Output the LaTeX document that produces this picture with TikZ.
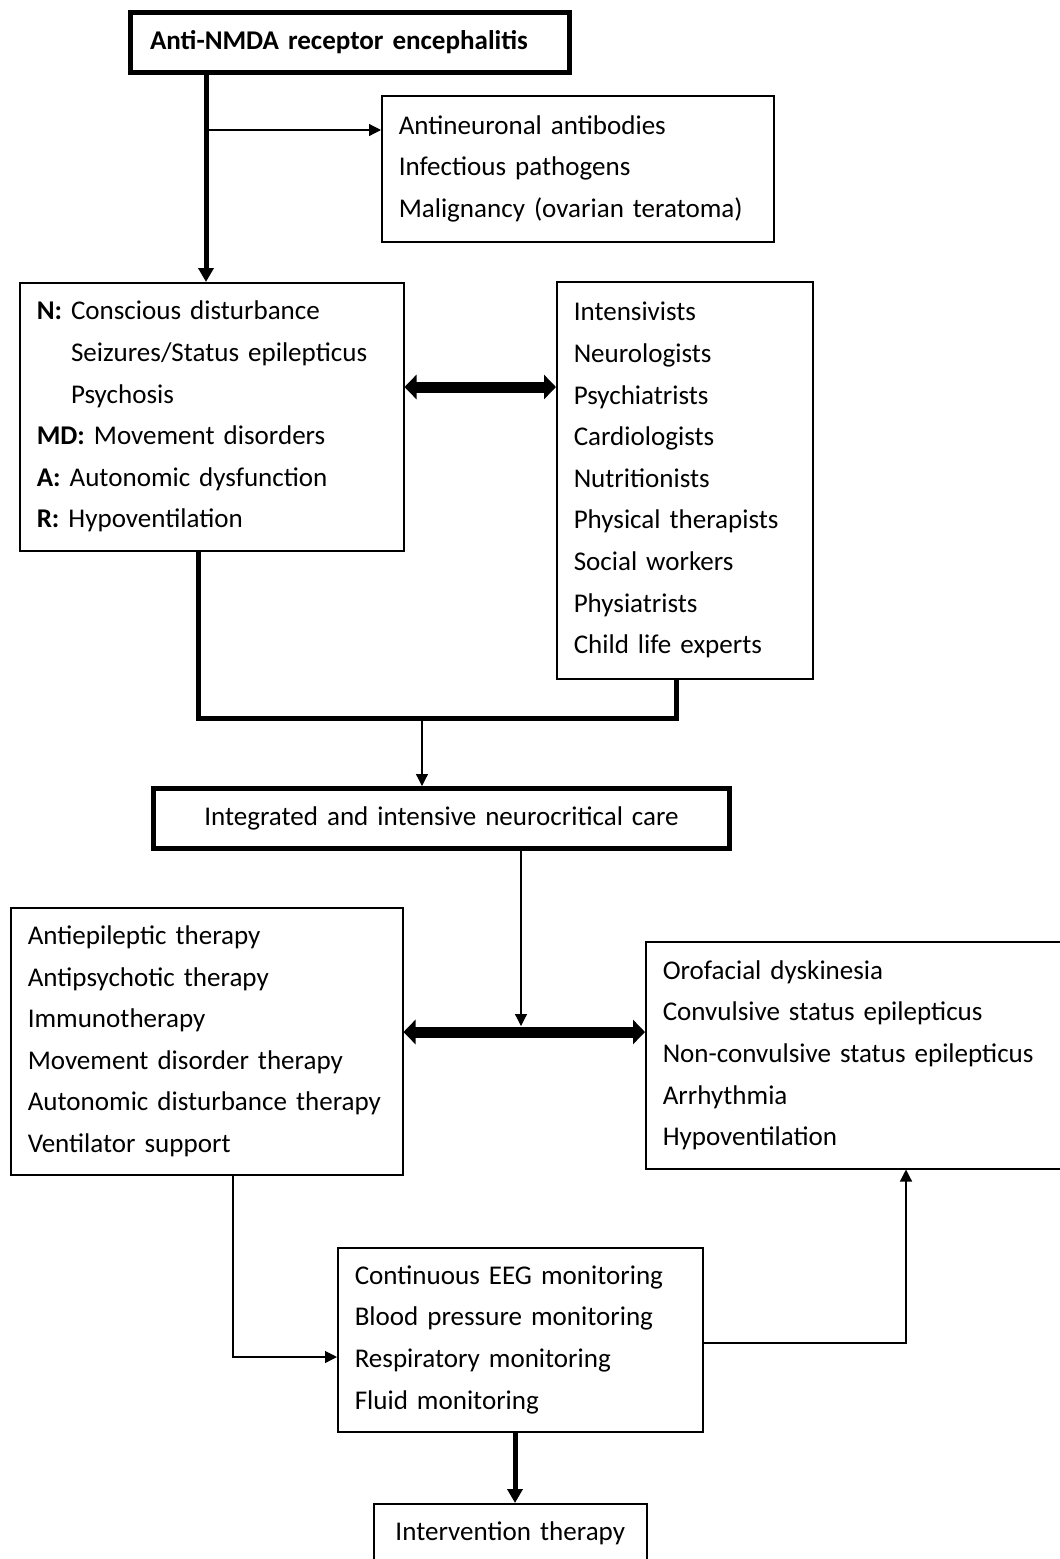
\documentclass[tikz,border=0pt]{standalone}
\usepackage{fontspec}
\setmainfont{Carlito}
\usetikzlibrary{arrows.meta}

\begin{document}
\begin{tikzpicture}[x=1pt,y=-1pt,
  every node/.style={font=\fontsize{27.05}{41.6}\selectfont},
  box/.style={draw,line width=1.5pt,inner xsep=17pt,inner ysep=0pt,align=left,anchor=north west},
  heavybox/.style={box,line width=5pt},
  thin/.style={line width=1.2pt,-{Triangle[length=12pt,width=12pt]}},
  heavy/.style={line width=5pt,-{Triangle[length=14pt,width=15pt]}},
  duo/.style={line width=11pt,{Triangle[length=12pt,width=24pt]}-{Triangle[length=12pt,width=24pt]}}]
  \useasboundingbox (0,0) rectangle (1060,1559);

  % boxes
  \node[heavybox,minimum width=439,minimum height=60,text width=400] (title) at (128,10)
    {\textbf{Anti-NMDA receptor encephalitis}};
  \node[box,minimum width=392,minimum height=146,text width=358] (causes) at (381,95)
    {Antineuronal antibodies\\Infectious pathogens\\Malignancy (ovarian teratoma)};
  \node[box,minimum width=384,minimum height=268,text width=350] (nmda) at (19,282)
    {\textbf{N:} Conscious disturbance\\
     \hphantom{\textbf{N:} }Seizures/Status epilepticus\\
     \hphantom{\textbf{N:} }Psychosis\\
     \textbf{MD:} Movement disorders\\
     \textbf{A:} Autonomic dysfunction\\
     \textbf{R:} Hypoventilation};
  \node[box,minimum width=256,minimum height=397,text width=222] (team) at (556,281)
    {Intensivists\\Neurologists\\Psychiatrists\\Cardiologists\\Nutritionists\\
     Physical therapists\\Social workers\\Physiatrists\\Child life experts};
  \node[heavybox,align=center,minimum width=576,minimum height=60,text width=542] (care) at (151,786)
    {Integrated and intensive neurocritical care};
  \node[box,minimum width=392,minimum height=267,text width=358] (therapy) at (10,907)
    {Antiepileptic therapy\\Antipsychotic therapy\\Immunotherapy\\
     Movement disorder therapy\\Autonomic disturbance therapy\\Ventilator support};
  \node[box,minimum width=435,minimum height=227,text width=401] (comp) at (645,941)
    {Orofacial dyskinesia\\Convulsive status epilepticus\\Non-convulsive status epilepticus\\
     Arrhythmia\\Hypoventilation};
  \node[box,minimum width=365,minimum height=184,text width=331] (monitor) at (337,1247)
    {Continuous EEG monitoring\\Blood pressure monitoring\\Respiratory monitoring\\Fluid monitoring};
  \node[box,align=center,minimum width=273,minimum height=60,text width=239] (interv) at (373,1503)
    {Intervention therapy};

  % connectors
  \coordinate (fork) at (206,130);
  \draw[heavy] (title.south -| fork) -- (nmda.north -| fork);
  \draw[thin] (fork) -- (fork -| causes.west);
  \draw[duo] (nmda.east |- 0,387) -- (team.west |- 0,387);
  \coordinate (join) at (422,718);
  \draw[line width=5pt] (nmda.south -| 198,0) |- (join) -| (team.south -| 676,0);
  \draw[thin] (join) -- (join |- care.north);
  \coordinate (hub) at (521,1032);
  \draw[thin] (care.south -| hub) -- (hub |- 0,1026);
  \draw[duo] (therapy.east |- hub) -- (comp.west |- hub);
  \draw[thin] (therapy.south -| 233,0) |- (monitor.west |- 0,1357);
  \draw[thin] (monitor.east |- 0,1343) -| (comp.south -| 906,0);
  \draw[heavy] (monitor.south -| 515,0) -- (interv.north -| 515,0);
\end{tikzpicture}
\end{document}
